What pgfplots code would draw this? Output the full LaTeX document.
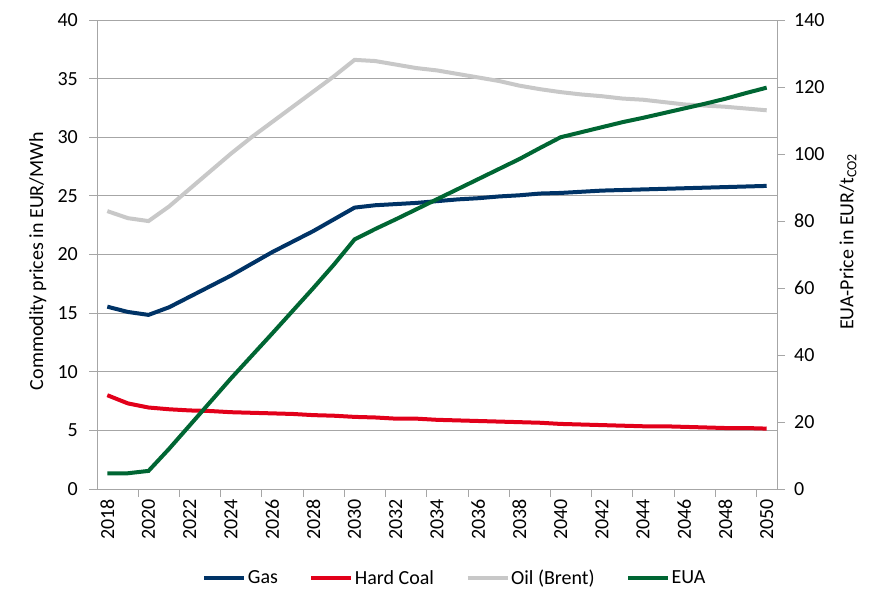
\documentclass[border=0pt]{standalone}
\usepackage{fontspec}
\setmainfont{Carlito}
\usepackage{pgfplots}
\pgfplotsset{compat=1.18}
\definecolor{gasc}{RGB}{0,51,102}
\definecolor{coalc}{RGB}{226,0,26}
\definecolor{oilc}{RGB}{200,200,200}
\definecolor{euac}{RGB}{0,102,51}
\definecolor{axgray}{RGB}{166,166,166}
\pgfplotstableread{
year gas coal oil
2018 15.55 8.0 23.7
2019 15.1 7.3 23.1
2020 14.85 6.95 22.85
2021 15.5 6.8 24.1
2022 16.4 6.7 25.6
2023 17.3 6.65 27.1
2024 18.2 6.55 28.6
2025 19.2 6.5 30.0
2026 20.2 6.45 31.3
2027 21.1 6.4 32.6
2028 22.0 6.3 33.9
2029 23.0 6.25 35.2
2030 24.0 6.15 36.6
2031 24.2 6.1 36.5
2032 24.3 6.0 36.2
2033 24.4 6.0 35.9
2034 24.55 5.9 35.7
2035 24.7 5.85 35.4
2036 24.8 5.8 35.1
2037 24.95 5.75 34.8
2038 25.05 5.7 34.4
2039 25.2 5.65 34.1
2040 25.25 5.55 33.85
2041 25.35 5.5 33.65
2042 25.45 5.45 33.5
2043 25.5 5.4 33.3
2044 25.55 5.35 33.2
2045 25.6 5.35 33.0
2046 25.65 5.3 32.8
2047 25.7 5.25 32.7
2048 25.75 5.2 32.6
2049 25.8 5.2 32.45
2050 25.85 5.15 32.3
}\fuels
\pgfplotstableread{
year eua
2018 4.7
2019 4.7
2020 5.4
2021 12.0
2022 19.0
2023 26.0
2024 33.0
2025 39.7
2026 46.4
2027 53.2
2028 60.0
2029 67.0
2030 74.5
2031 77.6
2032 80.5
2033 83.5
2034 86.5
2035 89.5
2036 92.5
2037 95.5
2038 98.5
2039 101.8
2040 105.0
2041 106.5
2042 108.0
2043 109.5
2044 110.8
2045 112.2
2046 113.6
2047 115.0
2048 116.5
2049 118.2
2050 119.8
}\euatab
\pgfplotsset{
  common/.style={
    at={(97pt,119pt)}, anchor=south west,
    scale only axis, width=680pt, height=469pt,
    xmin=2017.5, xmax=2050.5,
    font=\fontsize{20}{24}\selectfont,
    /pgf/number format/assume math mode=true,
    tick align=outside,
    major tick length=8pt, minor tick length=8pt,
    axis line style={draw=axgray, line width=0.8pt},
    every tick/.style={draw=axgray, line width=0.8pt},
  },
}
\begin{document}
\begin{tikzpicture}
\useasboundingbox (0,0) rectangle (884pt,608pt);
\begin{axis}[common,
  ymin=0, ymax=40, ytick={0,5,...,40},
  axis y line*=left, axis x line*=bottom,
  ymajorgrids, grid style={draw=axgray, line width=0.8pt},
  xtick={2018,2020,...,2050},
  xticklabel style={rotate=90, anchor=east, inner sep=2pt},
  yticklabel style={inner sep=2pt, xshift=-9pt},
  /pgf/number format/1000 sep={},
  major x tick style={draw=none},
  minor xtick={2019.5,2021.5,...,2049.5},
  minor x tick style={draw=axgray, line width=0.8pt},
  ylabel={Commodity prices in EUR/MWh},
  ylabel style={at={(axis description cs:-0.087,0.486)}, anchor=center, rotate=0},
]
\addplot[gasc, line width=4pt] table[x=year, y=gas] {\fuels};
\addplot[coalc, line width=4pt] table[x=year, y=coal] {\fuels};
\addplot[oilc, line width=4pt] table[x=year, y=oil] {\fuels};
\end{axis}
\begin{axis}[common,
  ymin=0, ymax=140, ytick={0,20,...,140},
  axis y line*=right, axis x line=none,
  yticklabel style={inner sep=2pt, xshift=7pt},
  ylabel={EUA-Price in EUR/t\textsubscript{CO2}},
  ylabel style={at={(axis description cs:1.1044,0.527)}, anchor=center},
  legend columns=4,
  legend style={draw=none, fill=none, at={(0.526,-0.19)}, anchor=center,
    font=\fontsize{20}{24}\selectfont,
    /tikz/every even column/.append style={column sep=30pt},
    nodes={inner sep=1.5pt},
    inner sep=0pt},
  legend cell align=left,
  legend image code/.code={\draw[#1] (0pt,0pt) -- (40pt,0pt);},
]
\addlegendimage{gasc, line width=4pt}
\addlegendentry{Gas}
\addlegendimage{coalc, line width=4pt}
\addlegendentry{Hard Coal}
\addlegendimage{oilc, line width=4pt}
\addlegendentry{Oil (Brent)}
\addplot[euac, line width=4pt] table[x=year, y=eua] {\euatab};
\addlegendentry{EUA}
\end{axis}
\end{tikzpicture}
\end{document}
